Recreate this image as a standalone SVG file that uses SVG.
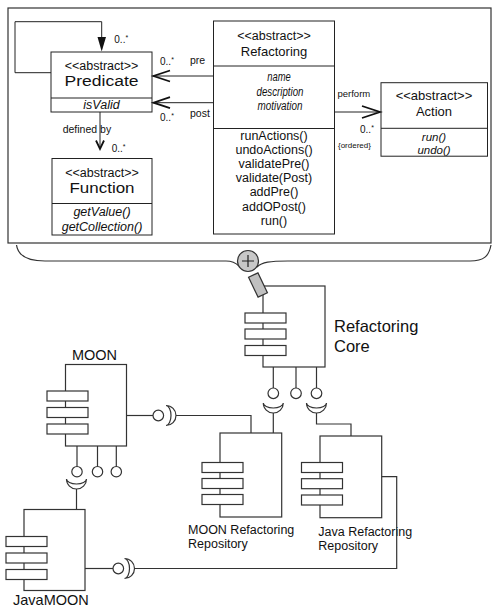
<svg xmlns="http://www.w3.org/2000/svg" width="493" height="610" viewBox="0 0 493 610">
<style>
text{font-family:"Liberation Sans",Arial,Helvetica,sans-serif;fill:#111}
.box{fill:#fff;stroke:#222;stroke-width:1}
.ln{fill:none;stroke:#222;stroke-width:1}
.ah{fill:none;stroke:#111;stroke-width:1.8}
.c{text-anchor:middle}
.i{font-style:italic}
.t{font-size:12.5px}
.lbl{font-size:10.5px}
.m{font-size:10px}
.cl{fill:none;stroke:#333;stroke-width:1.2}
.cb{fill:#fff;stroke:#333;stroke-width:1.2}
.big{font-size:13px}
</style>

<g id="frame">
<rect x="8" y="8" width="483" height="235" fill="#fff" stroke="#333" stroke-width="1.2"/>
</g>

<g id="predicate">
<rect class="box" x="51" y="52" width="101" height="60"/>
<line class="ln" x1="51" y1="98" x2="152" y2="98"/>
<text class="c t" x="101.5" y="70.3">&lt;&lt;abstract&gt;&gt;</text>
<text class="c" x="101.5" y="86.2" font-size="14" textLength="74" lengthAdjust="spacingAndGlyphs">Predicate</text>
<text class="c t i" x="101.5" y="109">isValid</text>
</g>

<g id="function">
<rect class="box" x="52" y="158.5" width="100" height="76.5"/>
<line class="ln" x1="52" y1="203.5" x2="152" y2="203.5"/>
<text class="c t" x="102" y="177">&lt;&lt;abstract&gt;&gt;</text>
<text class="c" x="102" y="193" font-size="14" textLength="65" lengthAdjust="spacingAndGlyphs">Function</text>
<text class="c t i" x="102" y="216.3">getValue()</text>
<text class="c t i" x="102" y="230.5">getCollection()</text>
</g>

<g id="refactoring">
<rect class="box" x="213.5" y="21" width="121" height="213"/>
<line class="ln" x1="213.5" y1="66" x2="334.5" y2="66"/>
<line class="ln" x1="213.5" y1="128.5" x2="334.5" y2="128.5"/>
<text class="c t" x="274" y="40">&lt;&lt;abstract&gt;&gt;</text>
<text class="c big" x="274" y="56">Refactoring</text>
<text class="c i" x="279" y="81" font-size="12.5" textLength="23.5" lengthAdjust="spacingAndGlyphs">name</text>
<text class="c i" x="280" y="95.5" font-size="12.5" textLength="47" lengthAdjust="spacingAndGlyphs">description</text>
<text class="c i" x="280" y="110" font-size="12.5" textLength="45" lengthAdjust="spacingAndGlyphs">motivation</text>
<text class="c t" x="274" y="140">runActions()</text>
<text class="c t" x="274" y="154.1">undoActions()</text>
<text class="c t" x="274" y="168.2">validatePre()</text>
<text class="c t" x="274" y="182.3">validate(Post)</text>
<text class="c t" x="274" y="196.4">addPre()</text>
<text class="c t" x="274" y="210.5">addOPost()</text>
<text class="c t" x="274" y="224.6">run()</text>
</g>

<g id="action">
<rect class="box" x="381" y="82.7" width="106.5" height="73.5"/>
<line class="ln" x1="381" y1="128.3" x2="487.5" y2="128.3"/>
<text class="c big" x="434" y="99.5">&lt;&lt;abstract&gt;&gt;</text>
<text class="c big" x="434" y="115.5">Action</text>
<text class="c i" x="434" y="140.5" font-size="11.5">run()</text>
<text class="c i" x="434" y="153.6" font-size="11.5">undo()</text>
</g>

<g id="connectors">
<polyline class="ln" points="51,72.7 15,72.7 15,21.7 101.7,21.7 101.7,40"/>
<polygon points="97.5,37 106,37 101.7,51.5" fill="#111"/>
<text class="m" x="114.3" y="43.3">0..<tspan dy="-3" font-size="7">*</tspan></text>

<line class="ln" x1="153" y1="76" x2="213.5" y2="76"/>
<polyline class="ah" points="170,70.5 153.5,76 170,81.5"/>
<text class="m" x="160" y="64.7">0..<tspan dy="-3" font-size="7">*</tspan></text>
<text class="lbl" x="190" y="63.5">pre</text>

<line class="ln" x1="153" y1="102.7" x2="213.5" y2="102.7"/>
<polyline class="ah" points="170,97.2 153.5,102.7 170,108.2"/>
<text class="m" x="160" y="120.5">0..<tspan dy="-3" font-size="7">*</tspan></text>
<text class="lbl" x="190" y="116.7">post</text>

<line class="ln" x1="100" y1="112" x2="100" y2="148"/>
<polyline class="ah" points="96,140.5 100,149 104,140.5"/>
<text class="lbl" x="62.7" y="132.5">defined by</text>
<text class="m" x="111.7" y="151.5">0..<tspan dy="-3" font-size="7">*</tspan></text>

<line class="ln" x1="334.5" y1="112" x2="380" y2="112"/>
<polyline class="ah" points="362,106 380,112 362,118"/>
<text x="337.5" y="96.5" font-size="9.5">perform</text>
<text class="m" x="360" y="132.5">0..<tspan dy="-3" font-size="7">*</tspan></text>
<text x="338" y="148" font-size="8">{ordered}</text>
</g>

<g id="brace">
<path class="cl" d="M16.5,245 C18,256 28,261 45,261 L226,261 C232,261 236,263 239,266"/>
<path class="cl" d="M257,267 C262,262 270,261 288,261 L470,261 C484,261 489,256 491,245"/>
<circle cx="248" cy="261" r="10.5" fill="#c8c8c8" stroke="#333" stroke-width="1.2"/>
<path d="M242,261 H254 M248,255 V267" stroke="#222" stroke-width="1.2"/>
</g>

<g id="refactoring-core">
<rect class="cl" x="263" y="286" width="62" height="81"/>
<rect class="cb" x="245" y="313" width="41" height="10"/>
<rect class="cb" x="245" y="329" width="41" height="10"/>
<rect class="cb" x="245" y="345.5" width="41" height="10"/>
<rect x="-5.2" y="-11" width="10.4" height="22" fill="#c0c0c0" stroke="#333" stroke-width="1.2" transform="translate(258,285) rotate(-25.6)"/>
<text x="334" y="332" font-size="16.5">Refactoring</text>
<text x="334" y="352" font-size="16.5">Core</text>
</g>

<g id="moon">
<rect class="cl" x="65.5" y="364.5" width="61" height="81.5"/>
<rect class="cb" x="47" y="391" width="41" height="10"/>
<rect class="cb" x="47" y="407.5" width="41" height="10"/>
<rect class="cb" x="47" y="424" width="41" height="10"/>
<text class="c" x="94.5" y="359.5" font-size="14.5">MOON</text>
</g>

<g id="moon-refactoring-repository">
<rect class="cl" x="220" y="433" width="61.7" height="84"/>
<rect class="cb" x="202" y="462.5" width="41" height="10"/>
<rect class="cb" x="202" y="478.5" width="41" height="10"/>
<rect class="cb" x="202" y="494.5" width="41" height="10"/>
<text x="188" y="534" font-size="12.5">MOON Refactoring</text>
<text x="188" y="548.2" font-size="12.5">Repository</text>
</g>

<g id="java-refactoring-repository">
<rect class="cl" x="320" y="436" width="61.7" height="81.7"/>
<rect class="cb" x="301.5" y="462.5" width="41" height="10"/>
<rect class="cb" x="301.5" y="478.7" width="41" height="10"/>
<rect class="cb" x="301.5" y="495" width="41" height="10"/>
<text x="318.3" y="536" font-size="12.5">Java Refactoring</text>
<text x="318.3" y="550.2" font-size="12.5">Repository</text>
</g>

<g id="javamoon">
<rect class="cl" x="24" y="509.5" width="61" height="81"/>
<rect class="cb" x="6" y="536.5" width="41" height="10"/>
<rect class="cb" x="6" y="553" width="41" height="10"/>
<rect class="cb" x="6" y="569.5" width="41" height="10"/>
<text x="13" y="605" font-size="14.5">JavaMOON</text>
</g>

<g id="component-connectors">
<line class="cl" x1="273.3" y1="367" x2="273.3" y2="388"/>
<line class="cl" x1="296" y1="367" x2="296" y2="388"/>
<line class="cl" x1="316.5" y1="367" x2="316.5" y2="388"/>
<circle class="cb" cx="273.3" cy="393.3" r="5.3"/>
<circle class="cb" cx="296" cy="393.3" r="5.3"/>
<circle class="cb" cx="316.5" cy="393.3" r="5.3"/>
<path class="cb" d="M263.3,403 A10,10 0 0 0 283.3,403 A10,5 0 0 1 263.3,403 Z"/>
<line class="cl" x1="273.3" y1="413" x2="273.3" y2="433"/>
<path class="cb" d="M306.5,403 A10,10 0 0 0 326.5,403 A10,5 0 0 1 306.5,403 Z"/>
<polyline class="cl" points="316.5,413 316.5,424 351,424 351,436"/>
<line class="cl" x1="126.5" y1="415.5" x2="153" y2="415.5"/>
<circle class="cb" cx="158.3" cy="415.5" r="5.3"/>
<path class="cb" d="M166,405.5 A10,10 0 0 1 166,425.5 A5,10 0 0 0 166,405.5 Z"/>
<polyline class="cl" points="176,415.5 251,415.5 251,433"/>
<line class="cl" x1="77" y1="446" x2="77" y2="466.5"/>
<line class="cl" x1="97.5" y1="446" x2="97.5" y2="466.5"/>
<line class="cl" x1="116.3" y1="446" x2="116.3" y2="466.5"/>
<circle class="cb" cx="77" cy="471.7" r="5.2"/>
<circle class="cb" cx="97.5" cy="471.7" r="5.2"/>
<circle class="cb" cx="116.3" cy="471.7" r="5.2"/>
<path class="cb" d="M66.5,479 A10,10 0 0 0 86.5,479 A10,5 0 0 1 66.5,479 Z"/>
<line class="cl" x1="76.5" y1="489" x2="76.5" y2="509.5"/>
<line class="cl" x1="85" y1="568.5" x2="113" y2="568.5"/>
<circle class="cb" cx="118.3" cy="568.5" r="5.3"/>
<path class="cb" d="M124.5,558.5 A10,10 0 0 1 124.5,578.5 A5,10 0 0 0 124.5,558.5 Z"/>
<polyline class="cl" points="134.5,568.5 396.7,568.5 396.7,476.7 381.7,476.7"/>
</g>
</svg>
